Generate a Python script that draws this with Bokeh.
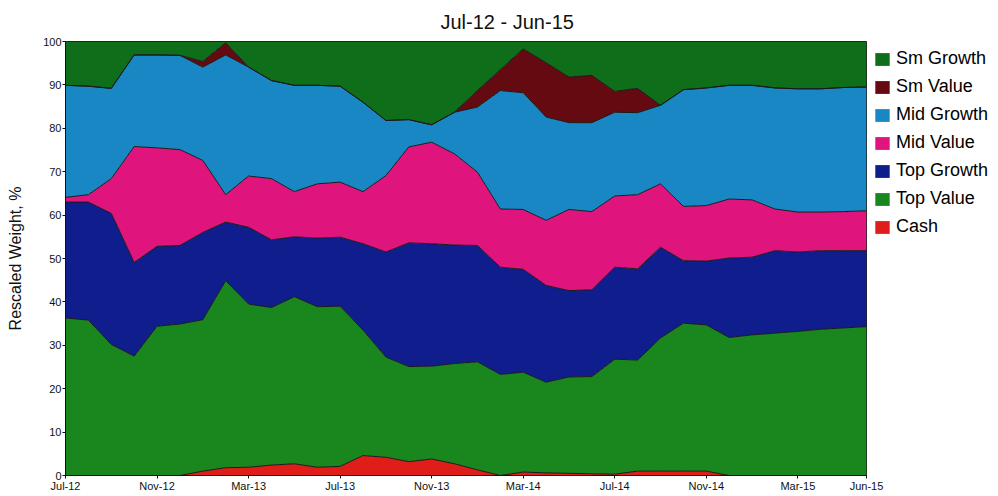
from bokeh.plotting import figure
from bokeh.models import Range1d, FixedTicker, Legend, LegendItem, ColumnDataSource
from bokeh.embed import file_html
from bokeh.resources import INLINE

months = ["Jul-12","Aug-12","Sep-12","Oct-12","Nov-12","Dec-12","Jan-13","Feb-13","Mar-13","Apr-13",
          "May-13","Jun-13","Jul-13","Aug-13","Sep-13","Oct-13","Nov-13","Dec-13","Jan-14","Feb-14",
          "Mar-14","Apr-14","May-14","Jun-14","Jul-14","Aug-14","Sep-14","Oct-14","Nov-14","Dec-14",
          "Jan-15","Feb-15","Mar-15","Apr-15","May-15","Jun-15"]
tick_labels = ["Jul-12","Nov-12","Mar-13","Jul-13","Nov-13","Mar-14","Jul-14","Nov-14","Mar-15","Jun-15"]

cash = [0,0,0,0,0,0,1.0,1.8,1.9,2.4,2.7,1.9,2.1,4.6,4.2,3.2,3.8,2.7,1.3,0,
        0.8,0.6,0.5,0.4,0.3,1.0,1.0,1.0,1.0,0,0,0,0,0,0,0]
top_value = [36.3,35.8,30.2,27.5,34.4,34.9,34.9,43.1,37.6,36.3,38.5,37.0,36.9,28.9,23.1,21.9,21.4,23.1,24.9,23.3,
             23.0,20.9,22.2,22.4,26.5,25.6,30.7,34.1,33.7,31.8,32.4,32.8,33.2,33.7,34.0,34.3]
top_growth = [26.7,27.2,30.2,21.6,18.4,18.1,20.1,13.5,17.7,15.6,13.8,15.8,15.9,19.9,24.2,28.5,28.2,27.3,26.8,24.7,
              23.7,22.3,19.9,20.0,21.2,21.0,20.9,14.4,14.7,18.3,17.9,19.0,18.3,18.1,17.8,17.5]
mid_value = [1.1,1.7,8.0,26.7,22.7,22.1,16.6,6.3,11.8,14.1,10.4,12.5,12.7,12.0,17.6,22.1,23.4,21.0,16.9,13.4,
             13.8,15.0,18.7,18.0,16.4,17.1,14.6,12.5,12.8,13.6,13.2,9.6,9.2,8.9,9.0,9.2]
mid_growth = [25.8,25.0,20.8,21.1,21.4,21.7,21.5,32.2,25.1,22.6,24.5,22.7,22.1,20.6,12.7,6.3,4.0,9.6,15.0,27.3,
              26.9,23.8,20.0,20.5,19.3,18.9,18.1,26.9,27.1,26.2,26.4,27.9,28.4,28.4,28.6,28.5]
sm_value = [0,0,0,0,0,0,1.3,2.8,0,0,0,0,0,0,0,0,0,0,3.8,4.8,
            10.1,12.5,10.5,10.9,4.8,5.6,0,0,0,0,0,0,0,0,0,0]
sm_growth = [10.1,10.3,10.8,3.1,3.1,3.2,4.6,0.3,5.9,9.0,10.1,10.1,10.3,14.0,18.2,18.0,19.2,16.3,11.3,6.5,
             1.7,4.9,8.2,7.8,11.5,10.8,14.7,11.1,10.7,10.1,10.1,10.7,10.9,10.9,10.6,10.5]

names = ["Cash", "Top Value", "Top Growth", "Mid Value", "Mid Growth", "Sm Value", "Sm Growth"]
colors = ["#e01e19", "#19871e", "#0f1e8c", "#e0147d", "#1987c3", "#650a10", "#0f6e1a"]
series = [cash, top_value, top_growth, mid_value, mid_growth, sm_value, sm_growth]

data = {"x": list(range(len(months)))}
for n, s in zip(names, series):
    data[n] = s
src = ColumnDataSource(data)

p = figure(frame_width=801, frame_height=434, output_backend="svg", toolbar_location=None,
           x_range=Range1d(0, len(months) - 1), y_range=Range1d(0, 100),
           min_border_left=65, min_border_right=0, min_border_top=41, min_border_bottom=19,
           title="Jul-12 - Jun-15")
p.title.align = "left"
p.title.offset = 375
p.title.standoff = 17
p.title.text_font = "Liberation Sans"
p.title.text_font_size = "20px"
p.title.text_font_style = "normal"
p.title.text_color = "#111111"

areas = p.varea_stack(stackers=names, x="x", color=colors, source=src)
p.vline_stack(stackers=names, x="x", color="#1a1a1a", line_width=1, source=src)

p.xgrid.visible = False
p.ygrid.visible = False
p.outline_line_color = "#222222"

tick_pos = [months.index(t) for t in tick_labels]
p.xaxis.ticker = FixedTicker(ticks=tick_pos)
p.xaxis.major_label_overrides = {i: months[i] for i in tick_pos}
p.yaxis.ticker = FixedTicker(ticks=list(range(0, 101, 10)))
for ax in (p.xaxis, p.yaxis):
    ax.major_label_text_font = "Liberation Sans"
    ax.major_label_text_font_size = "11px"
    ax.major_label_text_color = "#111111"
    ax.axis_line_color = "#111111"
    ax.major_tick_line_color = "#111111"
    ax.major_tick_out = 3
    ax.major_tick_in = 0
    ax.minor_tick_line_color = None
p.xaxis.major_label_standoff = 1
p.yaxis.major_label_standoff = 1
p.yaxis.axis_label = "Rescaled Weight, %"
p.yaxis.axis_label_text_font = "Liberation Sans"
p.yaxis.axis_label_text_font_size = "16px"
p.yaxis.axis_label_text_font_style = "normal"
p.yaxis.axis_label_text_color = "#111111"
p.yaxis.axis_label_standoff = 16

items = [LegendItem(label=n, renderers=[r]) for n, r in zip(names, areas)]
items.reverse()
legend = Legend(items=items, location="top_left", padding=0, margin=7,
                glyph_width=18, glyph_height=16, label_height=21, spacing=7,
                label_text_font="Liberation Sans", label_text_font_size="18px",
                label_text_color="#000000",
                label_standoff=5, border_line_color=None, background_fill_alpha=0)
p.add_layout(legend, "right")

open("out.html", "w").write(file_html(p, INLINE))
